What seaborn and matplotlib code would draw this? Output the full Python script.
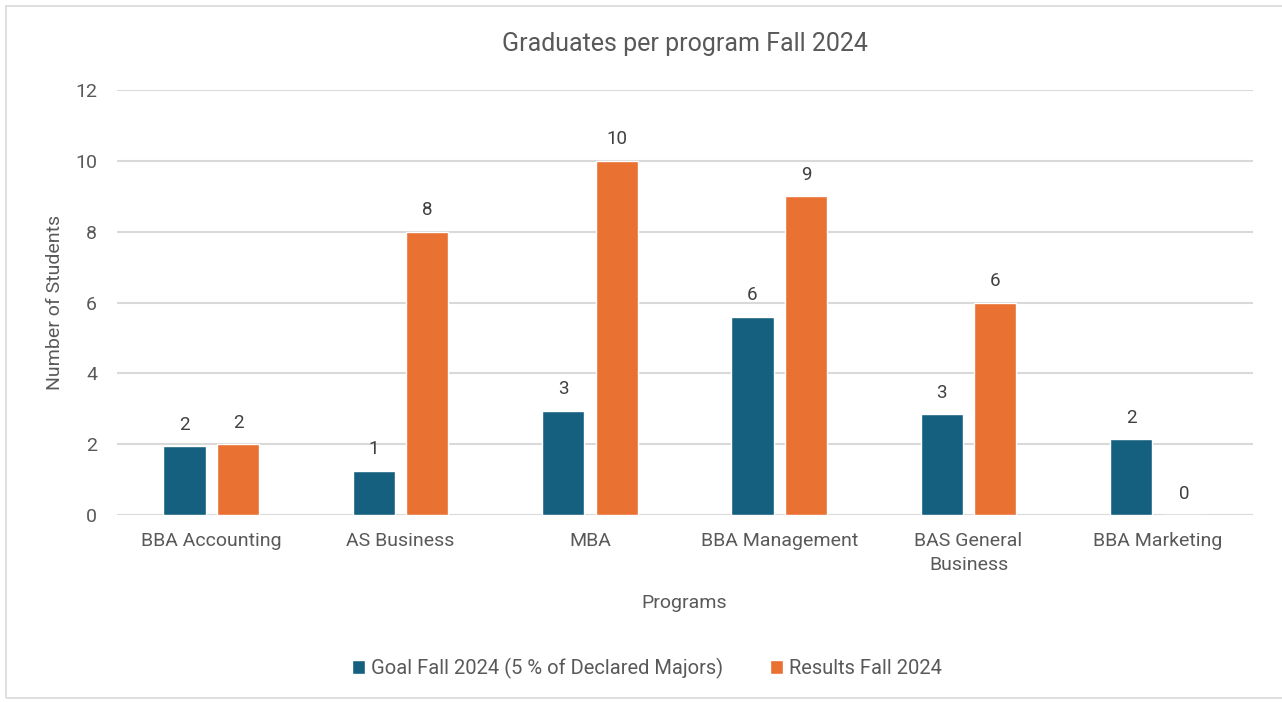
import pandas as pd
import seaborn as sns
import matplotlib.pyplot as plt
from matplotlib.patches import Rectangle

# Chart data
programs = ["BBA Accounting", "AS Business", "MBA", "BBA Management",
            "BAS General\nBusiness", "BBA Marketing"]
goal = [1.95, 1.25, 2.95, 5.6, 2.85, 2.15]
results = [2, 8, 10, 9, 6, 0]
series = ["Goal Fall 2024 (5 % of Declared Majors)", "Results Fall 2024"]
colors = ["#16607F", "#E97132"]
yticks = [0, 2, 4, 6, 8, 10, 12]

df = pd.DataFrame({
    "Program": programs * 2,
    "Series": [series[0]] * len(programs) + [series[1]] * len(programs),
    "Students": goal + results,
})

sns.set_style("white")
plt.rcParams["font.family"] = ["Roboto", "DejaVu Sans"]
text_color = "#595959"

fig = plt.figure(figsize=(12.82, 7.02), dpi=100)
ax = fig.add_axes([0.091, 0.266, 0.886, 0.606])

sns.barplot(data=df, x="Program", y="Students", hue="Series",
            palette=colors, saturation=1, width=0.565, gap=0.21, ax=ax,
            order=programs, hue_order=series, legend=True)

# data labels (rounded, like the original)
for container in ax.containers:
    ax.bar_label(container, labels=[f"{v.get_height():.0f}" for v in container],
                 padding=9, fontsize=13.5, color="#404040")

ax.set_ylim(0, 12)
ax.set_yticks(yticks)
ax.set_xlim(-0.5, len(programs) - 0.5)
ax.yaxis.grid(True, color="#D9D9D9", linewidth=1.5)
ax.set_axisbelow(True)
for s in ax.spines.values():
    s.set_visible(False)
ax.tick_params(axis="both", length=0, labelsize=14, labelcolor=text_color)
ax.tick_params(axis="x", pad=12)
ax.tick_params(axis="y", pad=14)
for lbl in ax.get_xticklabels():
    lbl.set_linespacing(1.45)

ax.set_title("Graduates per program Fall 2024", fontsize=18,
             color=text_color, pad=28)
ax.set_xlabel("Programs", fontsize=14, color=text_color, labelpad=14)
ax.set_ylabel("Number of Students", fontsize=14, color=text_color, labelpad=8)

ax.legend(loc="center", bbox_to_anchor=(0.467, -0.36), ncol=2, frameon=False,
          fontsize=14.5, labelcolor=text_color, handlelength=0.65,
          handleheight=0.65, handletextpad=0.3, columnspacing=2.3)

# light chart border
fig.patches.append(Rectangle((0.005, 0.005), 0.998, 0.987,
                             transform=fig.transFigure, fill=False,
                             edgecolor="#D9D9D9", linewidth=1.2))

fig.savefig("out.png", dpi=100, facecolor="white")
